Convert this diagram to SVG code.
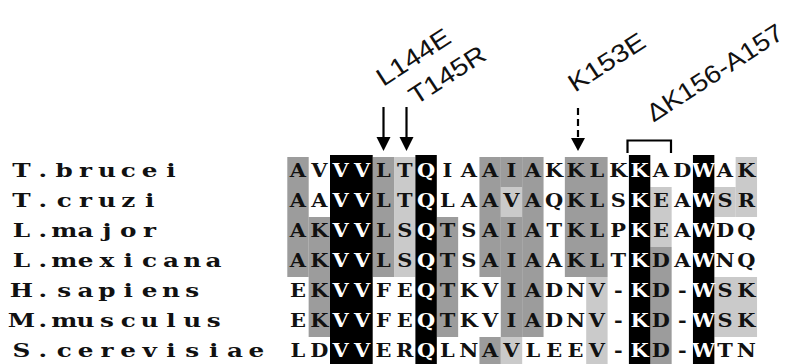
<svg xmlns="http://www.w3.org/2000/svg" width="790" height="364" viewBox="0 0 790 364">
<style>
.mono{font-family:"DejaVu Serif","Liberation Serif",serif;font-weight:bold;font-size:19px;text-anchor:middle;fill:#111}
.w{fill:#fff}
.dk{fill:#9c9c9c}
.lt{fill:#cacaca}
.bk{fill:#000}
.ann{font-family:"Liberation Sans",Arial,sans-serif;font-size:25px;fill:#111}
.ar{stroke:#000;stroke-width:2.2;fill:none}
.hd{fill:#000}
</style>
<rect width="790" height="364" fill="#fff"/>
<g id="shading">
<rect class="dk" x="287.3" y="157" width="21.4" height="120"/>
<rect class="dk" x="308.65" y="217" width="21.4" height="120"/>
<rect class="dk" x="372.7" y="157" width="21.4" height="120"/>
<rect class="lt" x="394.05" y="157" width="21.4" height="120"/>
<rect class="dk" x="436.75" y="217" width="21.4" height="120"/>
<rect class="dk" x="479.45" y="157" width="21.4" height="120"/>
<rect class="dk" x="479.45" y="337" width="21.4" height="30"/>
<rect class="dk" x="500.8" y="157" width="21.4" height="30"/>
<rect class="lt" x="500.8" y="187" width="21.4" height="30"/>
<rect class="dk" x="500.8" y="217" width="21.4" height="120"/>
<rect class="lt" x="500.8" y="337" width="21.4" height="30"/>
<rect class="dk" x="522.15" y="157" width="21.4" height="180"/>
<rect class="dk" x="564.85" y="157" width="42.75" height="120"/>
<rect class="lt" x="586.2" y="277" width="21.4" height="90"/>
<rect class="lt" x="650.25" y="187" width="21.4" height="60"/>
<rect class="dk" x="650.25" y="247" width="21.4" height="120"/>
<rect class="lt" x="714.3" y="187" width="21.4" height="30"/>
<rect class="lt" x="735.65" y="157" width="21.4" height="60"/>
<rect class="lt" x="714.3" y="277" width="42.75" height="60"/>
<rect class="bk" x="330" y="155" width="42.7" height="212"/>
<rect class="bk" x="415.4" y="155" width="21.4" height="212"/>
<rect class="bk" x="628.9" y="155" width="21.4" height="212"/>
<rect class="bk" x="692.95" y="155" width="21.4" height="212"/>
</g>
<g id="names" transform="scale(1.3,1)">
<text class="mono" x="16.54 32.96 49.38 65.80 82.22 98.64 115.06 131.48" y="177.5">T.brucei</text>
<text class="mono" x="16.54 32.96 49.38 65.80 82.22 98.64 115.06" y="207.5">T.cruzi</text>
<text class="mono" x="16.54 32.96 49.38 65.80 82.22 98.64 115.06" y="237.5">L.major</text>
<text class="mono" x="16.54 32.96 49.38 65.80 82.22 98.64 115.06 131.48 147.90 164.32" y="267.5">L.mexicana</text>
<text class="mono" x="16.54 32.96 49.38 65.80 82.22 98.64 115.06 131.48 147.90" y="297.5">H.sapiens</text>
<text class="mono" x="16.54 32.96 49.38 65.80 82.22 98.64 115.06 131.48 147.90 164.32" y="327.5">M.musculus</text>
<text class="mono" x="16.54 32.96 49.38 65.80 82.22 98.64 115.06 131.48 147.90 164.32 180.74 197.16" y="357.5">S.cerevisiae</text>
</g>
<g id="residues" transform="scale(1.1,1)">
<text class="mono" x="270.89 290.30 309.71 329.12 348.53 367.93 387.34 406.75 426.16 445.57 464.98 484.39 503.80 523.21 542.61 562.02 581.43 600.84 620.25 639.66 659.07 678.48" y="177.5">AV<tspan class="w">VV</tspan>LT<tspan class="w">Q</tspan>IAAIAKKLK<tspan class="w">K</tspan>AD<tspan class="w">W</tspan>AK</text>
<text class="mono" x="270.89 290.30 309.71 329.12 348.53 367.93 387.34 406.75 426.16 445.57 464.98 484.39 503.80 523.21 542.61 562.02 581.43 600.84 620.25 639.66 659.07 678.48" y="207.5">AA<tspan class="w">VV</tspan>LT<tspan class="w">Q</tspan>LAAVAQKLS<tspan class="w">K</tspan>EA<tspan class="w">W</tspan>SR</text>
<text class="mono" x="270.89 290.30 309.71 329.12 348.53 367.93 387.34 406.75 426.16 445.57 464.98 484.39 503.80 523.21 542.61 562.02 581.43 600.84 620.25 639.66 659.07 678.48" y="237.5">AK<tspan class="w">VV</tspan>LS<tspan class="w">Q</tspan>TSAIATKLP<tspan class="w">K</tspan>EA<tspan class="w">W</tspan>DQ</text>
<text class="mono" x="270.89 290.30 309.71 329.12 348.53 367.93 387.34 406.75 426.16 445.57 464.98 484.39 503.80 523.21 542.61 562.02 581.43 600.84 620.25 639.66 659.07 678.48" y="267.5">AK<tspan class="w">VV</tspan>LS<tspan class="w">Q</tspan>TSAIAAKLT<tspan class="w">K</tspan>DA<tspan class="w">W</tspan>NQ</text>
<text class="mono" x="270.89 290.30 309.71 329.12 348.53 367.93 387.34 406.75 426.16 445.57 464.98 484.39 503.80 523.21 542.61 562.02 581.43 600.84 620.25 639.66 659.07 678.48" y="297.5">EK<tspan class="w">VV</tspan>FE<tspan class="w">Q</tspan>TKVIADNV-<tspan class="w">K</tspan>D-<tspan class="w">W</tspan>SK</text>
<text class="mono" x="270.89 290.30 309.71 329.12 348.53 367.93 387.34 406.75 426.16 445.57 464.98 484.39 503.80 523.21 542.61 562.02 581.43 600.84 620.25 639.66 659.07 678.48" y="327.5">EK<tspan class="w">VV</tspan>FE<tspan class="w">Q</tspan>TKVIADNV-<tspan class="w">K</tspan>D-<tspan class="w">W</tspan>SK</text>
<text class="mono" x="270.89 290.30 309.71 329.12 348.53 367.93 387.34 406.75 426.16 445.57 464.98 484.39 503.80 523.21 542.61 562.02 581.43 600.84 620.25 639.66 659.07 678.48" y="357.5">LD<tspan class="w">VV</tspan>ER<tspan class="w">Q</tspan>LNAVLEEV-<tspan class="w">K</tspan>D-<tspan class="w">W</tspan>TN</text>
</g>
<g id="annotations">
<text class="ann" transform="translate(383.2,86.9) rotate(-33) scale(1.15,1)">L144E</text>
<text class="ann" transform="translate(415.8,105.6) rotate(-33) scale(1.15,1)">T145R</text>
<text class="ann" transform="translate(575.1,92.7) rotate(-33) scale(1.15,1)">K153E</text>
<text class="ann" transform="translate(653.5,122.7) rotate(-33) scale(1.11,1)">ΔK156-A157</text>
</g>
<g id="connectors">
<line class="ar" x1="383.5" y1="107" x2="383.5" y2="138"/>
<polygon class="hd" points="376.5,137 390.5,137 383.5,151"/>
<line class="ar" x1="406.5" y1="107" x2="406.5" y2="138"/>
<polygon class="hd" points="399.5,137 413.5,137 406.5,151"/>
<line class="ar" x1="578" y1="108" x2="578" y2="138" stroke-dasharray="7,4"/>
<polygon class="hd" points="571,138 585,138 578,151"/>
<path class="ar" d="M627.5,153 V140.5 H671 V153"/>
</g>
</svg>
